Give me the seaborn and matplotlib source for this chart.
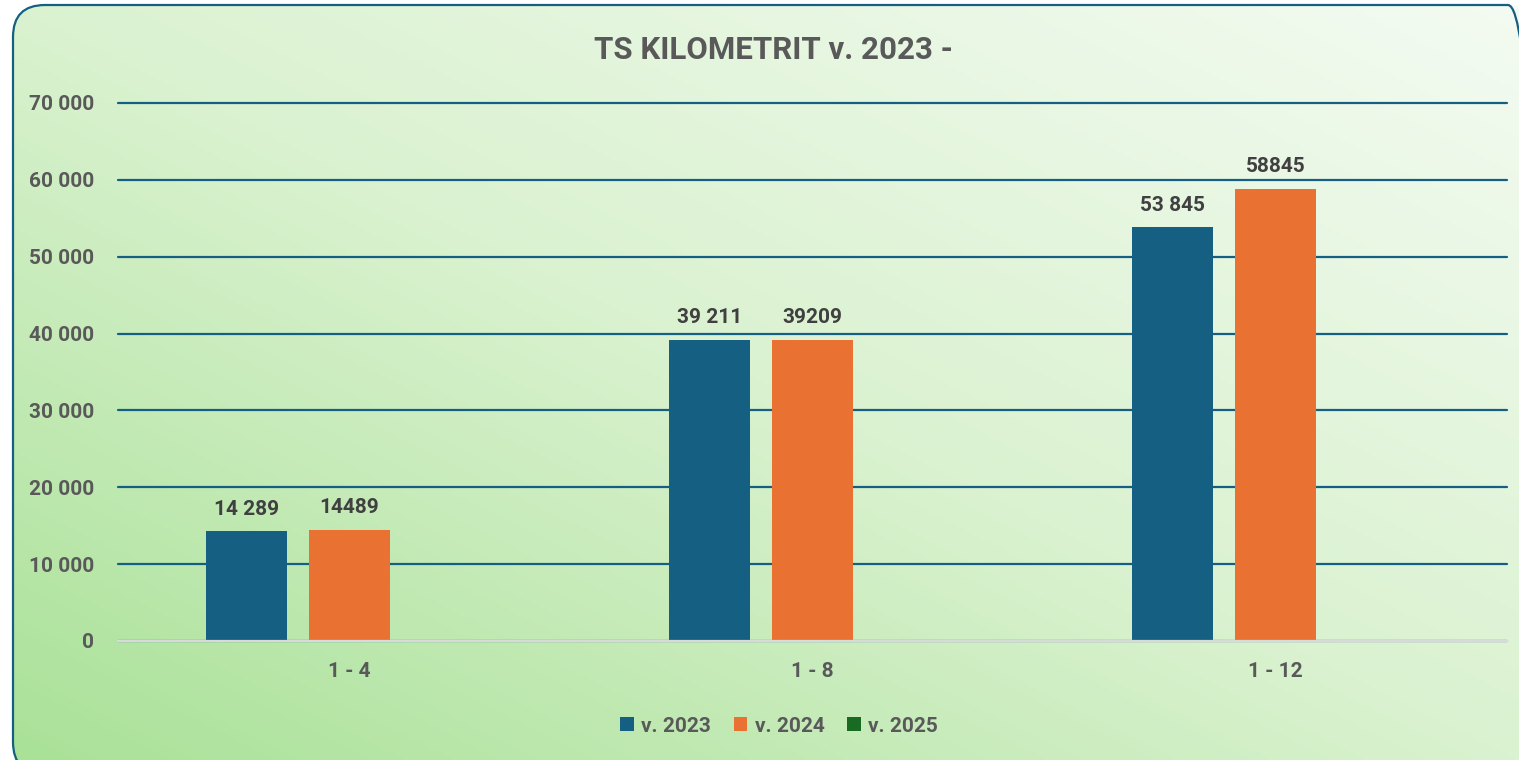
import numpy as np
import pandas as pd
import matplotlib
matplotlib.use("Agg")
import matplotlib.pyplot as plt
from matplotlib.patches import FancyBboxPatch, Patch
from matplotlib.colors import LinearSegmentedColormap
from matplotlib.transforms import IdentityTransform
import seaborn as sns

# ---- data ----
periods = ["1 - 4", "1 - 8", "1 - 12"]
series = ["v. 2023", "v. 2024", "v. 2025"]
values_2023 = [14289, 39211, 53845]
values_2024 = [14489, 39209, 58845]
labels_2023 = ["14 289", "39 211", "53 845"]
labels_2024 = ["14489", "39209", "58845"]
yticks = [0, 10000, 20000, 30000, 40000, 50000, 60000, 70000]
ytick_labels = ["0", "10 000", "20 000", "30 000", "40 000", "50 000", "60 000", "70 000"]
title = "TS KILOMETRIT v. 2023 -"
colors = {"v. 2023": "#156082", "v. 2024": "#E97132", "v. 2025": "#196B24"}

df = pd.DataFrame({
    "period": periods * 2,
    "series": ["v. 2023"] * 3 + ["v. 2024"] * 3,
    "value": values_2023 + values_2024,
})

sns.set_theme(style="white")
plt.rcParams["font.family"] = ["Roboto", "DejaVu Sans"]
plt.rcParams["font.weight"] = "bold"

W, H = 1519, 760
fig = plt.figure(figsize=(W / 100, H / 100), dpi=100)
fig.patch.set_facecolor("white")

# background gradient inside a rounded frame (display pixel coordinates)
bg = fig.add_axes([0, 0, 1, 1], zorder=-10)
bg.axis("off")
xx, yy = np.meshgrid(np.linspace(0, 1, 400), np.linspace(0, 1, 200))
t = (xx + yy) / 2.0
cmap = LinearSegmentedColormap.from_list(
    "g", [(0.0, "#A9E197"), (0.5, "#DAF2D0"), (1.0, "#F4FBF2")])
im = bg.imshow(t, cmap=cmap, vmin=0, vmax=1, extent=[0, 1, 0, 1],
               origin="lower", aspect="auto", transform=bg.transAxes)
bg.set_xlim(0, 1)
bg.set_ylim(0, 1)
frame = FancyBboxPatch((13, -14), 1540 - 13, (H - 5) + 14,
                       boxstyle="round,pad=0,rounding_size=32",
                       facecolor="none", edgecolor="#156082", linewidth=1.6,
                       transform=IdentityTransform())
fig.patches.append(frame)
frame.set_figure(fig)
im.set_clip_path(frame)

ax = fig.add_axes([118 / W, 1 - 641 / H, (1507 - 118) / W, (641 - 103) / H])
ax.patch.set_alpha(0)

sns.barplot(data=df, x="period", y="value", hue="series", order=periods,
            hue_order=series, palette=colors, width=0.667, gap=0.2125,
            ax=ax, legend=False, errorbar=None, saturation=1,
            linewidth=0)

ax.set_xlim(-0.5, 2.5)
ax.set_ylim(0, 70000)
ax.set_yticks(yticks)
ax.set_yticklabels(ytick_labels)
ax.set_xlabel("")
ax.set_ylabel("")
for s in ["top", "right", "left"]:
    ax.spines[s].set_visible(False)
ax.spines["bottom"].set_color("#D9D9D9")
ax.spines["bottom"].set_linewidth(1.6)
ax.spines["bottom"].set_zorder(5)
ax.grid(axis="y", color="#156082", linewidth=1.6)
ax.set_axisbelow(True)
for gl in ax.get_ygridlines():
    gl.set_clip_on(False)
ax.tick_params(axis="both", length=0, labelsize=15, labelcolor="#595959")
ax.tick_params(axis="y", pad=17)
ax.tick_params(axis="x", pad=15)
for lab in ax.get_xticklabels() + ax.get_yticklabels():
    lab.set_fontweight("bold")

label_sets = [labels_2023, labels_2024]
for cont, labs in zip(ax.containers, label_sets):
    ax.bar_label(cont, labels=labs, padding=9, fontsize=15,
                 fontweight="bold", color="#404040")

fig.text(773 / W, 1 - 50 / H, title, ha="center", va="center",
         fontsize=22.5, fontweight="bold", color="#595959")

handles = [Patch(facecolor=colors[s], edgecolor="none", label=s) for s in series]
leg = fig.legend(handles=handles, loc="center", ncol=3,
                 bbox_to_anchor=(779 / W, 1 - 726 / H), frameon=False,
                 prop={"size": 15, "weight": "bold"}, handlelength=0.65,
                 handleheight=0.65, handletextpad=0.35, columnspacing=1.1)
for txt in leg.get_texts():
    txt.set_color("#595959")

fig.savefig("out.png", dpi=100)
